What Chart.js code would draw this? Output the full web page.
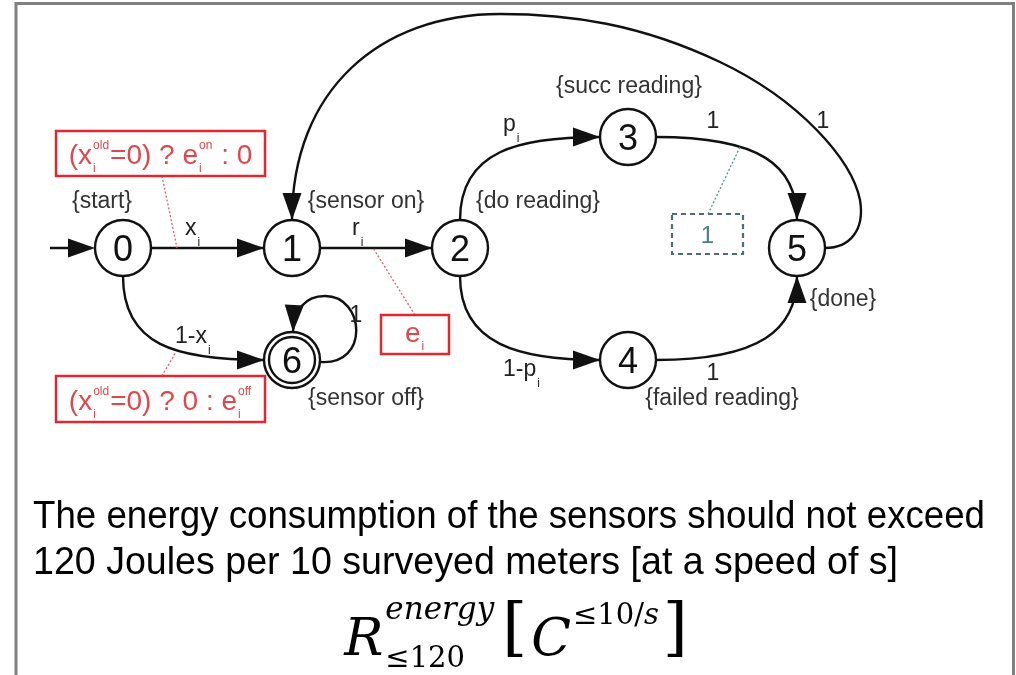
<!DOCTYPE html>
<html lang="en">
<head>
<meta charset="UTF-8">
<title>Sensor energy model</title>
<script src="https://cdn.jsdelivr.net/npm/chart.js"></script>
<style>
  html, body { margin: 0; padding: 0; background: #fff; }
  #wrap { width: 1016px; height: 675px; }
</style>
</head>
<body>
<div id="wrap"><canvas id="diagram" width="1016" height="675"></canvas></div>
<script>
// states of the model
const nodeIds = ['0', '1', '2', '3', '4', '5', '6'];
const nodeX = [123, 292, 460, 628, 628, 797, 292];
const nodeY = [248, 248, 248, 137, 360, 248, 360];
const nodeTags = ['{start}', '{sensor on}', '{do reading}', '{succ reading}', '{failed reading}', '{done}', '{sensor off}'];
const initialNode = 0;
const finalNodes = [6];

// transitions and their probabilities
const edgeFrom = [0, 0, 1, 2, 2, 3, 4, 5, 6];
const edgeTo   = [1, 6, 2, 3, 4, 5, 5, 1, 6];
const edgeProb = ['x_{i}', '1-x_{i}', 'r_{i}', 'p_{i}', '1-p_{i}', '1', '1', '1', '1'];

// rewards on transitions
const rewardEdges = ['0-1', '0-6', '1-2', '3-5'];
const rewardTexts = ['(x_{i}^{old}=0) ? e_{i}^{on} : 0', '(x_{i}^{old}=0) ? 0 : e_{i}^{off}', 'e_{i}', '1'];

const captionLines = [
    'The energy consumption of the sensors should not exceed',
    '120 Joules per 10 surveyed meters [at a speed of s]'
];

// ---- drawing layout (diagram units = canvas pixels) ----
const SANS = '"Liberation Sans", Arial, sans-serif';
const SERIF = '"DejaVu Serif", "Liberation Serif", serif';
const R = 28;
const INK = '#111';
const RED = '#e0282e';

const edgeShape = {
    '0-1': { start: [151, 248], segs: [[264, 248]], lab: [185, 235, 'left'] },
    '0-6': { start: [123, 276], segs: [[123, 345, 175, 360, 264, 360]], lab: [175, 343, 'left'] },
    '1-2': { start: [320, 248], segs: [[432, 248]], lab: [352, 235, 'left'] },
    '2-3': { start: [460, 220], segs: [[460, 150, 520, 137, 600, 137]], lab: [503, 131, 'left'] },
    '2-4': { start: [460, 276], segs: [[460, 345, 520, 360, 600, 360]], lab: [503, 376, 'left'] },
    '3-5': { start: [656, 137], segs: [[760, 137, 797, 165, 797, 220]], lab: [713, 128, 'center'] },
    '4-5': { start: [656, 360], segs: [[760, 360, 797, 330, 797, 276]], lab: [713, 380, 'center'] },
    '5-1': { start: [825, 248], segs: [[850, 248, 865, 230, 860, 200], [852, 160, 800, 100, 720, 62],
                                       [640, 24, 570, 14, 500, 14], [380, 14, 292, 90, 292, 220]], lab: [823, 128, 'center'] },
    '6-6': { start: [320, 362], segs: [[370, 366, 365, 296, 325, 296], [305, 296, 294, 310, 293, 332]], lab: [356, 322, 'center'] }
};
const tagPos = [[102, 208], [366, 208], [538, 208], [629, 93], [722, 405], [843, 306], [366, 405]];
const rewardBox = {
    '0-1': { box: [56, 131, 209, 45], base: 164, hook: [162, 176, 177, 248], red: true },
    '0-6': { box: [56, 376, 209, 46], base: 410, hook: [162, 376, 176, 352], red: true },
    '1-2': { box: [381, 315, 68, 39], base: 342, hook: [415, 315, 373, 248], red: true },
    '3-5': { box: [672, 214, 71, 40], base: 243, hook: [708, 214, 740, 147], red: false }
};

function richParts(s) {
    const parts = [];
    let buf = '', i = 0;
    while (i < s.length) {
        const c = s[i];
        if ((c === '_' || c === '^') && s[i + 1] === '{') {
            if (buf) { parts.push({ t: buf }); buf = ''; }
            const end = s.indexOf('}', i);
            const val = s.slice(i + 2, end);
            const last = parts[parts.length - 1];
            if (last && last.t === undefined && !last[c]) last[c] = val;
            else parts.push({ [c]: val });
            i = end + 1;
        } else { buf += c; i++; }
    }
    if (buf) parts.push({ t: buf });
    return parts;
}

function drawRich(ctx, s, x, y, size, color, align, o) {
    const parts = richParts(s);
    const big = size + 'px ' + SANS, sm = o.small + 'px ' + SANS;
    let w = 0;
    parts.forEach(p => {
        if (p.t !== undefined) { ctx.font = big; p.w = ctx.measureText(p.t).width; }
        else {
            ctx.font = sm;
            p.w = Math.max(p._ ? ctx.measureText(p._).width : 0, p['^'] ? ctx.measureText(p['^']).width : 0) + 2;
        }
        w += p.w;
    });
    let cx = align === 'center' ? x - w / 2 : x;
    ctx.fillStyle = color;
    ctx.textAlign = 'left';
    ctx.textBaseline = 'alphabetic';
    parts.forEach(p => {
        if (p.t !== undefined) { ctx.font = big; ctx.fillText(p.t, cx, y); }
        else {
            ctx.font = sm;
            if (p._) ctx.fillText(p._, cx + 1, y + o.subDy);
            if (p['^']) ctx.fillText(p['^'], cx + 1, y + o.supDy);
        }
        cx += p.w;
    });
}

function arrowHead(ctx, fx, fy, tx, ty) {
    const a = Math.atan2(ty - fy, tx - fx), len = 27, hw = 9.5;
    const bx = tx - len * Math.cos(a), by = ty - len * Math.sin(a);
    ctx.beginPath();
    ctx.moveTo(tx, ty);
    ctx.lineTo(bx + hw * Math.sin(a), by - hw * Math.cos(a));
    ctx.lineTo(bx - hw * Math.sin(a), by + hw * Math.cos(a));
    ctx.closePath();
    ctx.fill();
}

// R^{energy}_{<=120} [ C^{<=10/s} ]
function drawFormula(ctx, cx, base) {
    ctx.font = 'italic 52px ' + SERIF;
    const wR = ctx.measureText('R').width;
    ctx.font = 'italic 31px ' + SERIF;
    const wE = ctx.measureText('energy').width;
    ctx.font = '29px ' + SERIF;
    const wS = ctx.measureText('\u2264120').width;
    ctx.font = '64px ' + SERIF;
    const wB = ctx.measureText('[').width;
    ctx.font = 'italic 52px ' + SERIF;
    const wC = ctx.measureText('C').width;
    ctx.font = '29px ' + SERIF;
    const wT = ctx.measureText('\u226410/').width;
    ctx.font = 'italic 29px ' + SERIF;
    const ws = ctx.measureText('s').width;
    const total = wR + 2 + Math.max(wE, wS) + 8 + wB + 4 + wC + 2 + wT + ws + 4 + wB;
    let x = cx - total / 2;
    ctx.fillStyle = '#000';
    ctx.textAlign = 'left';
    ctx.font = 'italic 52px ' + SERIF; ctx.fillText('R', x, base); x += wR + 2;
    ctx.font = 'italic 31px ' + SERIF; ctx.fillText('energy', x, base - 36);
    ctx.font = '29px ' + SERIF; ctx.fillText('\u2264120', x, base + 12);
    x += Math.max(wE, wS) + 8;
    ctx.font = '64px ' + SERIF; ctx.fillText('[', x, base - 6); x += wB + 4;
    ctx.font = 'italic 52px ' + SERIF; ctx.fillText('C', x, base); x += wC + 2;
    ctx.font = '29px ' + SERIF; ctx.fillText('\u226410/', x, base - 31); x += wT;
    ctx.font = 'italic 29px ' + SERIF; ctx.fillText('s', x, base - 31); x += ws + 4;
    ctx.font = '64px ' + SERIF; ctx.fillText(']', x, base - 6);
}

const diagramPlugin = {
    id: 'diagram',
    beforeDraw(chart) {
        const ctx = chart.ctx;
        ctx.save();
        ctx.fillStyle = '#fff';
        ctx.fillRect(0, 0, chart.width, chart.height);
        ctx.restore();
    },
    beforeDatasetsDraw(chart) {
        const { ctx, scales: { x, y } } = chart;
        const X = v => x.getPixelForValue(v), Y = v => y.getPixelForValue(v);
        ctx.save();

        // frame
        ctx.strokeStyle = '#808080';
        ctx.lineWidth = 3;
        ctx.beginPath();
        ctx.moveTo(X(16), Y(675)); ctx.lineTo(X(16), Y(3.5)); ctx.lineTo(X(1013.5), Y(3.5)); ctx.lineTo(X(1013.5), Y(675));
        ctx.stroke();

        ctx.strokeStyle = INK;
        ctx.fillStyle = INK;
        ctx.lineWidth = 2.4;

        // entry arrow
        const ex = nodeX[initialNode], ey = nodeY[initialNode];
        ctx.beginPath();
        ctx.moveTo(X(ex - 73), Y(ey)); ctx.lineTo(X(ex - R - 10), Y(ey));
        ctx.stroke();
        arrowHead(ctx, X(ex - 73), Y(ey), X(ex - R), Y(ey));

        edgeFrom.forEach((f, k) => {
            const key = f + '-' + edgeTo[k];
            const sh = edgeShape[key];
            ctx.strokeStyle = INK;
            ctx.fillStyle = INK;
            ctx.beginPath();
            ctx.moveTo(X(sh.start[0]), Y(sh.start[1]));
            sh.segs.forEach(s => {
                if (s.length === 2) ctx.lineTo(X(s[0]), Y(s[1]));
                else ctx.bezierCurveTo(X(s[0]), Y(s[1]), X(s[2]), Y(s[3]), X(s[4]), Y(s[5]));
            });
            ctx.stroke();
            const last = sh.segs[sh.segs.length - 1];
            const tip = last.slice(-2);
            const from = last.length === 2 ? sh.start : last.slice(2, 4);
            arrowHead(ctx, X(from[0]), Y(from[1]), X(tip[0]), Y(tip[1]));
            drawRich(ctx, edgeProb[k], X(sh.lab[0]), Y(sh.lab[1]), 23, '#222', sh.lab[2],
                     { small: 12, subDy: 11, supDy: -12 });
        });
        ctx.restore();
    },
    afterDatasetsDraw(chart) {
        const { ctx, scales: { x, y } } = chart;
        const X = v => x.getPixelForValue(v), Y = v => y.getPixelForValue(v);
        ctx.save();

        // accepting state: inner ring
        ctx.strokeStyle = INK;
        ctx.lineWidth = 2.4;
        finalNodes.forEach(n => {
            ctx.beginPath();
            ctx.arc(X(nodeX[n]), Y(nodeY[n]), R - 5, 0, Math.PI * 2);
            ctx.stroke();
        });

        // state numbers
        ctx.fillStyle = '#111';
        ctx.textAlign = 'center';
        ctx.textBaseline = 'alphabetic';
        ctx.font = '36px ' + SANS;
        nodeIds.forEach((id, i) => ctx.fillText(id, X(nodeX[i]), Y(nodeY[i]) + 13));

        // state labels
        ctx.fillStyle = '#333';
        ctx.font = '23px ' + SANS;
        nodeTags.forEach((t, i) => ctx.fillText(t, X(tagPos[i][0]), Y(tagPos[i][1])));

        // reward annotations
        rewardEdges.forEach((key, k) => {
            const rb = rewardBox[key];
            const [bx, by, bw, bh] = rb.box;
            const [h1x, h1y, h2x, h2y] = rb.hook;
            ctx.lineWidth = 1.3;
            ctx.setLineDash([2, 2]);
            ctx.strokeStyle = rb.red ? '#e06070' : '#5b8e90';
            ctx.beginPath();
            ctx.moveTo(X(h1x), Y(h1y)); ctx.lineTo(X(h2x), Y(h2y));
            ctx.stroke();
            if (rb.red) {
                ctx.setLineDash([]);
                ctx.lineWidth = 2.5;
                ctx.strokeStyle = RED;
            } else {
                ctx.setLineDash([5, 4]);
                ctx.lineWidth = 2.2;
                ctx.strokeStyle = '#4d6f72';
            }
            ctx.strokeRect(X(bx), Y(by), X(bx + bw) - X(bx), Y(by + bh) - Y(by));
            ctx.setLineDash([]);
            drawRich(ctx, rewardTexts[k], X(bx + bw / 2), Y(rb.base), rb.red ? 28 : 24,
                     rb.red ? '#e0464a' : '#4a7e80', 'center', { small: 12, subDy: 8, supDy: -15 });
        });

        // caption
        ctx.fillStyle = '#000';
        ctx.textAlign = 'left';
        ctx.font = '38px ' + SANS;
        ctx.fillText(captionLines[0], X(33), Y(528), 952);
        ctx.fillText(captionLines[1], X(33), Y(574), 865);

        drawFormula(ctx, X(516), Y(655));
        ctx.restore();
    }
};

new Chart(document.getElementById('diagram'), {
    type: 'scatter',
    data: {
        datasets: [{
            label: 'states',
            data: nodeX.map((v, i) => ({ x: v, y: nodeY[i] })),
            pointRadius: R,
            pointHoverRadius: R,
            backgroundColor: '#fff',
            borderColor: INK,
            borderWidth: 2.4
        }]
    },
    options: {
        responsive: false,
        animation: false,
        events: [],
        layout: { padding: 0, autoPadding: false },
        scales: {
            x: { type: 'linear', min: 0, max: 1016, display: false },
            y: { type: 'linear', min: 0, max: 675, reverse: true, display: false }
        },
        plugins: { legend: { display: false }, tooltip: { enabled: false } }
    },
    plugins: [diagramPlugin]
});
</script>
</body>
</html>
